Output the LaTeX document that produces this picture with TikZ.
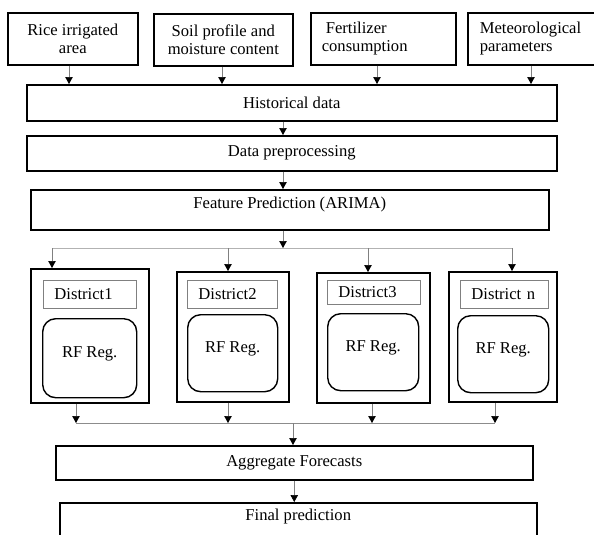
\documentclass[tikz,border=0pt]{standalone}
\usepackage{fontspec}
\setmainfont{Liberation Serif}
\usetikzlibrary{arrows.meta, positioning, calc}

\begin{document}
\begin{tikzpicture}[x=1pt, y=-1pt,
    every node/.style={font=\fontsize{16.6}{18}\selectfont, inner sep=0pt, anchor=north west},
    srcbox/.style={draw, line width=1.6pt, minimum height=52pt},
    stagebox/.style={draw, line width=1.5pt},
    distbox/.style={draw, line width=1.8pt},
    tagbox/.style={draw=black!50, line width=0.9pt, inner xsep=11pt, align=left},
    rfbox/.style={draw, line width=1.4pt, rounded corners=13pt, text depth=12pt},
    flow/.style={draw=black!50, line width=0.7pt, -{Triangle[color=black, width=7.5pt, length=7pt]}},
    wire/.style={draw=black!45, line width=0.7pt}]
    \useasboundingbox (0,0) rectangle (594,535);

    \node[srcbox, minimum width=130pt, align=center] (rice) at (7,12) {Rice irrigated\\area};
    \node[srcbox, minimum width=139pt, align=center] (soil) at (153,13) {Soil profile and\\moisture content};
    \node[srcbox, text width=123pt, inner xsep=11pt, align=left] (fert) at (310,12) {\hspace*{4pt}Fertilizer\\consumption};
    \node[srcbox, text width=111pt, inner xsep=12pt, align=left] (met) at (467,12) {Meteorological\\parameters};

    \node[stagebox, minimum width=530pt, minimum height=36pt] (hist) at (26,84) {Historical data};
    \node[stagebox, minimum width=530pt, minimum height=35pt] (prep) at (26,135) {Data preprocessing};
    \node[stagebox, minimum width=518pt, minimum height=40pt, text depth=14pt] (feat) at (30,189) {Feature Prediction (ARIMA)};

    \node[distbox, minimum width=118pt, minimum height=134pt] (d1) at (30,268) {};
    \node[distbox, minimum width=112pt, minimum height=130pt] (d2) at (176,271) {};
    \node[distbox, minimum width=113pt, minimum height=130pt] (d3) at (316,272) {};
    \node[distbox, minimum width=108pt, minimum height=130pt] (dn) at (448,271) {};

    \node[tagbox, text width=71pt, minimum height=28pt] (tag1) at (43,280) {District1};
    \node[tagbox, text width=68pt, minimum height=28pt] (tag2) at (187,280) {District2};
    \node[tagbox, text width=71pt, minimum height=24pt] (tag3) at (327,280) {District3};
    \node[tagbox, text width=66pt, minimum height=28pt] (tagn) at (460,280) {District n};

    \node[rfbox, minimum width=94pt, minimum height=79pt] (rf1) at (42,318) {RF Reg.};
    \node[rfbox, minimum width=90pt, minimum height=77pt] (rf2) at (187,314) {RF Reg.};
    \node[rfbox, minimum width=91pt, minimum height=77pt] (rf3) at (327,313) {RF Reg.};
    \node[rfbox, minimum width=91pt, minimum height=77pt] (rfn) at (457,315) {RF Reg.};

    \node[stagebox, minimum width=477pt, minimum height=34pt] (agg) at (55,445) {Aggregate Forecasts};
    \node[stagebox, minimum width=477pt, minimum height=44pt, text depth=20pt] (final) at (59,502) {Final prediction};

    \foreach \src/\x in {rice/69, soil/222, fert/377, met/531}
        \draw[flow] (\src.south -| \x,0) -- (hist.north -| \x,0);
    \coordinate (spine) at (283,0);
    \draw[flow] (hist.south -| spine) -- (prep.north -| spine);
    \draw[flow] (prep.south -| spine) -- (feat.north -| spine);
    \coordinate (split) at (283,248);
    \draw[flow] (feat.south -| spine) -- (split);
    \draw[wire, draw=black!30] (split -| 52,0) -- (split -| 512,0);
    \foreach \d/\x in {d1/52, d2/228, d3/368, dn/512}
        \draw[flow] (split -| \x,0) -- (\d.north -| \x,0);

    \coordinate (merge) at (293,423);
    \foreach \d/\x in {d1/76, d2/228, d3/372, dn/495}
        \draw[flow] (\d.south -| \x,0) -- (merge -| \x,0);
    \draw[wire] (merge -| 76,0) -- (merge -| 495,0);
    \draw[flow] (merge) -- (agg.north -| merge);
    \draw[flow] (agg.south) -- (final.north -| agg.south);
\end{tikzpicture}
\end{document}
